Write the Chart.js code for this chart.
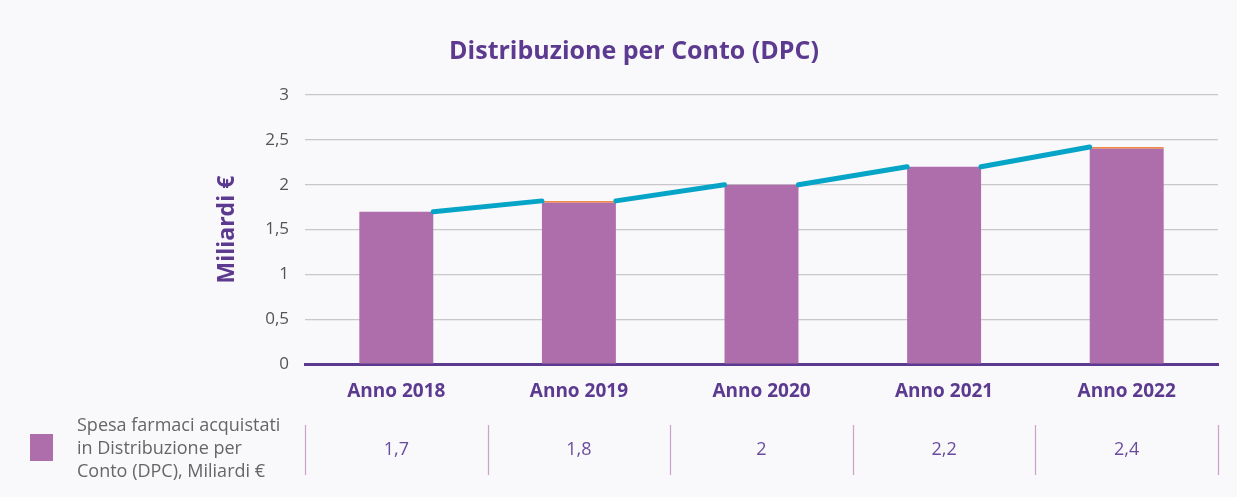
<!DOCTYPE html>
<html>
<head>
<meta charset="utf-8">
<script src="https://cdn.jsdelivr.net/npm/chart.js@4"></script>
<style>
  html, body { margin: 0; padding: 0; background: #f9f8fb; }
  #wrap { width: 1237px; height: 497px; }
</style>
</head>
<body>
<div id="wrap"><canvas id="chart" width="1237" height="497"></canvas></div>
<script>
// Dati
const anni = ['Anno 2018', 'Anno 2019', 'Anno 2020', 'Anno 2021', 'Anno 2022'];
const spesaDPC = [1.7, 1.8, 2, 2.2, 2.4];
const quotaArancio = [0, 0.02, 0, 0, 0.02];
const tickValori = [0, 0.5, 1, 1.5, 2, 2.5, 3];
const legendaRighe = ['Spesa farmaci acquistati', 'in Distribuzione per', 'Conto (DPC), Miliardi €'];

const FONT = '"Open Sans", Lato, sans-serif';
const VIOLA = '#5b3a8f';
const BARRA = '#ae6eab';

const fmt = v => String(v).replace('.', ',');

// segmenti della linea tra il bordo destro di una barra e il bordo sinistro della successiva
const BAR_PCT = 0.81, CAT_PCT = 0.5;
const mezzaBarra = BAR_PCT * CAT_PCT / 2;
const puntiLinea = [];
for (let i = 0; i < spesaDPC.length - 1; i++) {
    puntiLinea.push({ x: i + mezzaBarra, y: spesaDPC[i] + quotaArancio[i] });
    puntiLinea.push({ x: i + 1 - mezzaBarra, y: spesaDPC[i + 1] + quotaArancio[i + 1] });
    puntiLinea.push({ x: i + 0.5, y: null });
}

// sfondo
const sfondo = {
    id: 'sfondo',
    beforeDraw(chart) {
        const ctx = chart.ctx;
        ctx.save();
        ctx.fillStyle = '#f9f8fb';
        ctx.fillRect(0, 0, chart.width, chart.height);
        ctx.restore();
    }
};

// tabella dati sotto il grafico
const tabella = {
    id: 'tabella',
    afterDraw(chart) {
        const ctx = chart.ctx;
        const x = chart.scales.x;
        const passo = (x.right - x.left) / anni.length;
        ctx.save();
        // separatori
        ctx.strokeStyle = '#c9a3c8';
        ctx.lineWidth = 1.2;
        for (let i = 0; i <= anni.length; i++) {
            const px = Math.round(x.left + passo * i) + 0.5;
            ctx.beginPath();
            ctx.moveTo(px, 425);
            ctx.lineTo(px, 475);
            ctx.stroke();
        }
        // valori
        ctx.fillStyle = '#6a4c9e';
        ctx.font = '18px ' + FONT;
        ctx.textAlign = 'center';
        ctx.textBaseline = 'middle';
        spesaDPC.forEach((v, i) => {
            ctx.fillText(fmt(v), x.getPixelForValue(i), 450);
        });
        // legenda
        ctx.fillStyle = BARRA;
        ctx.fillRect(30, 434, 23, 27);
        ctx.fillStyle = '#666666';
        ctx.font = '18px ' + FONT;
        ctx.textAlign = 'left';
        legendaRighe.forEach((r, i) => {
            ctx.fillText(r, 77, 426 + i * 23);
        });
        ctx.restore();
    }
};

new Chart(document.getElementById('chart'), {
    data: {
        labels: anni,
        datasets: [
            {
                type: 'line',
                label: 'Andamento',
                data: puntiLinea,
                xAxisID: 'xl',
                stack: 'linea',
                borderColor: '#06a5c7',
                borderWidth: 5,
                borderCapStyle: 'round',
                pointRadius: 0,
                spanGaps: false,
                order: 0
            },
            {
                type: 'bar',
                label: 'Spesa farmaci acquistati in Distribuzione per Conto (DPC), Miliardi €',
                data: spesaDPC,
                backgroundColor: BARRA,
                stack: 'b',
                grouped: false,
                barPercentage: BAR_PCT,
                categoryPercentage: CAT_PCT,
                order: 1
            },
            {
                type: 'bar',
                label: 'Altro',
                data: quotaArancio,
                backgroundColor: '#f08a4b',
                stack: 'b',
                grouped: false,
                barPercentage: BAR_PCT,
                categoryPercentage: CAT_PCT,
                order: 1
            }
        ]
    },
    options: {
        responsive: false,
        animation: false,
        layout: { padding: { left: 50, right: 19, top: 0, bottom: 86 } },
        plugins: {
            legend: { display: false },
            tooltip: { enabled: false },
            title: {
                display: true,
                text: 'Distribuzione per Conto (DPC)',
                color: VIOLA,
                font: { family: FONT, size: 25, weight: 'bold' },
                padding: { top: 37, bottom: 28 }
            }
        },
        scales: {
            x: {
                stacked: true,
                grid: { display: false },
                border: { color: VIOLA, width: 3 },
                ticks: {
                    color: VIOLA,
                    padding: 8,
                    font: { family: FONT, size: 19, weight: 'bold' }
                }
            },
            xl: {
                type: 'linear',
                display: false,
                min: -0.5,
                max: anni.length - 0.5
            },
            y: {
                stacked: true,
                min: 0,
                max: 3,
                afterFit(s) { s.width = 255; },
                afterBuildTicks(s) { s.ticks = tickValori.map(v => ({ value: v })); },
                grid: { color: '#c8c7cc', lineWidth: 1.2, drawTicks: false },
                border: { display: false },
                ticks: {
                    color: '#555555',
                    padding: 16,
                    font: { family: FONT, size: 17 },
                    callback: v => fmt(v)
                },
                title: {
                    display: true,
                    text: 'Miliardi €',
                    color: VIOLA,
                    font: { family: FONT, size: 23, weight: 'bold' },
                    padding: { top: 164, bottom: 0 }
                }
            }
        }
    },
    plugins: [sfondo, tabella]
});
</script>
</body>
</html>
